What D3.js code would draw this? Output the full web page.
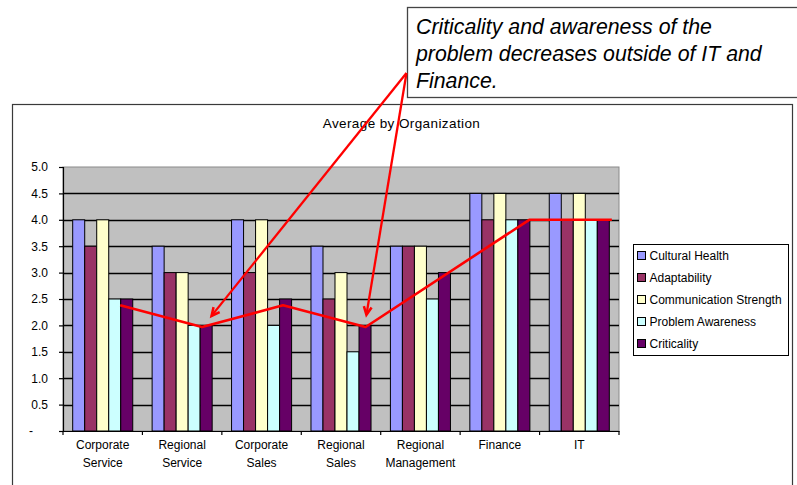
<!DOCTYPE html>
<html>
<head>
<meta charset="utf-8">
<script src="https://cdn.jsdelivr.net/npm/d3@7"></script>
<style>
  html, body { margin: 0; padding: 0; background: #fff; }
  svg { display: block; }
  text { font-family: "Liberation Sans", Arial, sans-serif; fill: #000; }
</style>
</head>
<body>
<svg id="chart" width="797" height="485"></svg>
<script>
// ---------- data ----------
const categories = ["Corporate Service", "Regional Service", "Corporate Sales", "Regional Sales", "Regional Management", "Finance", "IT"];
const categoryLabelLines = [["Corporate", "Service"], ["Regional", "Service"], ["Corporate", "Sales"], ["Regional", "Sales"], ["Regional", "Management"], ["Finance"], ["IT"]];
const seriesNames = ["Cultural Health", "Adaptability", "Communication Strength", "Problem Awareness", "Criticality"];
const culturalHealth        = [4.0, 3.5, 4.0, 3.5, 3.5, 4.5, 4.5];
const adaptability          = [3.5, 3.0, 3.0, 2.5, 3.5, 4.0, 4.0];
const communicationStrength = [4.0, 3.0, 4.0, 3.0, 3.5, 4.5, 4.5];
const problemAwareness      = [2.5, 2.0, 2.0, 1.5, 2.5, 4.0, 4.0];
const criticality           = [2.5, 2.0, 2.5, 2.0, 3.0, 4.0, 4.0];
const yTickValues = [0, 0.5, 1.0, 1.5, 2.0, 2.5, 3.0, 3.5, 4.0, 4.5, 5.0];
const chartTitle = "Average by Organization";
const calloutLines = ["Criticality and awareness of the", "problem decreases outside of IT and", "Finance."];
// hand-drawn red trend annotation (category, value)
const trendCategories = ["Corporate Service", "Regional Service", "Corporate Sales", "Regional Sales", "Finance", "IT"];
const trendValues = [2.38, 1.97, 2.38, 1.97, 4.0, 4.0];
// arrow targets (category, value)
const arrowCategories = ["Regional Service", "Regional Sales"];
const arrowValues = [2.18, 2.2];

// ---------- styling / layout ----------
const seriesColors = ["#9999FF", "#993366", "#FFFFCC", "#CCFFFF", "#660066"];
const trendOffsets = [0.72, 0.75, 0.77, 0.81, 0.87, 0.91]; // fraction within band
const arrowOffsets = [0.87, 0.82];
const plot = { left: 63, right: 619, top: 167, bottom: 431 };

const series = [culturalHealth, adaptability, communicationStrength, problemAwareness, criticality];
const svg = d3.select("#chart");

// outer chart border
svg.append("rect").attr("x", 12.5).attr("y", 104.5).attr("width", 780).attr("height", 420)
  .attr("fill", "#fff").attr("stroke", "#3a3a3a").attr("stroke-width", 1.2);

const x = d3.scaleBand().domain(categories).range([plot.left, plot.right]).padding(0);
const xs = d3.scaleBand().domain(seriesNames)
  .range([x.bandwidth() * 0.122, x.bandwidth() * 0.878]).padding(0);
const y = d3.scaleLinear().domain([0, 5]).range([plot.bottom, plot.top]);

// plot background
svg.append("rect").attr("x", plot.left).attr("y", plot.top)
  .attr("width", plot.right - plot.left).attr("height", plot.bottom - plot.top)
  .attr("fill", "#C0C0C0").attr("stroke", "#8a8a8a").attr("stroke-width", 1);

// gridlines
svg.append("g").selectAll("line").data(yTickValues.filter(v => v > 0 && v < 5)).join("line")
  .attr("x1", plot.left).attr("x2", plot.right)
  .attr("y1", d => Math.round(y(d)) + 0.5).attr("y2", d => Math.round(y(d)) + 0.5)
  .attr("stroke", "#000").attr("stroke-width", 1.3);

// bars
const groups = svg.append("g").selectAll("g").data(categories).join("g")
  .attr("transform", d => `translate(${x(d)},0)`);
groups.selectAll("rect").data((c, i) => seriesNames.map((s, k) => ({ s, k, v: series[k][i] }))).join("rect")
  .attr("x", d => xs(d.s)).attr("width", xs.bandwidth())
  .attr("y", d => y(d.v)).attr("height", d => y(0) - y(d.v))
  .attr("fill", d => seriesColors[d.k]).attr("stroke", "#000").attr("stroke-width", 1);

// y axis
const yAxis = d3.axisLeft(y).tickValues(yTickValues).tickSize(4).tickPadding(11)
  .tickFormat(d => d === 0 ? "-" : d3.format(".1f")(d));
const yg = svg.append("g").attr("transform", `translate(${plot.left},0)`).call(yAxis);
yg.select(".domain").attr("stroke", "#000").attr("stroke-width", 1.2);
yg.selectAll(".tick line").attr("stroke", "#000").attr("stroke-width", 1.2);
yg.selectAll(".tick text").attr("font-size", 12).attr("font-family", "Liberation Sans, Arial, sans-serif").attr("fill", "#000")
  .attr("dx", d => d === 0 ? -15 : 0);

// x axis
const xAxis = d3.axisBottom(x).tickSize(0).tickFormat("");
const xg = svg.append("g").attr("transform", `translate(0,${plot.bottom})`).call(xAxis);
xg.select(".domain").attr("stroke", "#000").attr("stroke-width", 1.2);
const boundaries = categories.map(c => x(c)).concat([x(categories[categories.length - 1]) + x.bandwidth()]);
xg.selectAll("line.bnd").data(boundaries).join("line").attr("class", "bnd")
  .attr("x1", d => d).attr("x2", d => d).attr("y1", 0).attr("y2", 4)
  .attr("stroke", "#000").attr("stroke-width", 1.2);
const labelG = svg.append("g");
categories.forEach((c, i) => {
  const t = labelG.append("text").attr("x", x(c) + x.bandwidth() / 2).attr("y", 449)
    .attr("text-anchor", "middle").attr("font-size", 12);
  categoryLabelLines[i].forEach((line, j) => {
    t.append("tspan").attr("x", x(c) + x.bandwidth() / 2).attr("dy", j === 0 ? 0 : 17.7).text(line);
  });
});

// title
svg.append("text").attr("x", 401.5).attr("y", 128).attr("text-anchor", "middle")
  .attr("font-size", 13.5).attr("letter-spacing", 0.4).text(chartTitle);

// legend
const lg = svg.append("g");
lg.append("rect").attr("x", 633.5).attr("y", 244.5).attr("width", 155).attr("height", 111)
  .attr("fill", "#fff").attr("stroke", "#000").attr("stroke-width", 1);
seriesNames.forEach((s, k) => {
  const cy = 255.5 + k * 22;
  lg.append("rect").attr("x", 637.5).attr("y", cy - 4).attr("width", 8).attr("height", 8)
    .attr("fill", seriesColors[k]).attr("stroke", "#000").attr("stroke-width", 1);
  lg.append("text").attr("x", 649.5).attr("y", cy + 4.2).attr("font-size", 12).text(s);
});

// red trend line
const trendPts = trendCategories.map((c, i) => [x(c) + trendOffsets[i] * x.bandwidth(), y(trendValues[i])]);
svg.append("path").attr("d", d3.line()(trendPts)).attr("fill", "none")
  .attr("stroke", "#FF0000").attr("stroke-width", 2.6).attr("stroke-linejoin", "round");

// callout box
const cb = { x: 407.5, y: 7.5, w: 400, h: 90 };
svg.append("rect").attr("x", cb.x).attr("y", cb.y).attr("width", cb.w).attr("height", cb.h)
  .attr("fill", "#fff").attr("stroke", "#444").attr("stroke-width", 1.3);
calloutLines.forEach((line, i) => {
  svg.append("text").attr("x", 416).attr("y", 33.5 + i * 27).attr("font-size", 21.3)
    .attr("font-style", "italic").attr("fill", "#1a1a1a").text(line);
});

// arrows from callout
const origin = [cb.x - 1, 73];
arrowCategories.forEach((c, i) => {
  const tip = [x(c) + arrowOffsets[i] * x.bandwidth(), y(arrowValues[i])];
  svg.append("line").attr("x1", origin[0]).attr("y1", origin[1]).attr("x2", tip[0]).attr("y2", tip[1])
    .attr("stroke", "#FF0000").attr("stroke-width", 2.3);
  const ang = Math.atan2(origin[1] - tip[1], origin[0] - tip[0]);
  const L = 9, spread = 0.45;
  const a1 = [tip[0] + L * Math.cos(ang + spread), tip[1] + L * Math.sin(ang + spread)];
  const a2 = [tip[0] + L * Math.cos(ang - spread), tip[1] + L * Math.sin(ang - spread)];
  svg.append("path").attr("d", `M${a1}L${tip}L${a2}`).attr("fill", "none")
    .attr("stroke", "#FF0000").attr("stroke-width", 2.5).attr("stroke-linejoin", "miter");
});
</script>
</body>
</html>
